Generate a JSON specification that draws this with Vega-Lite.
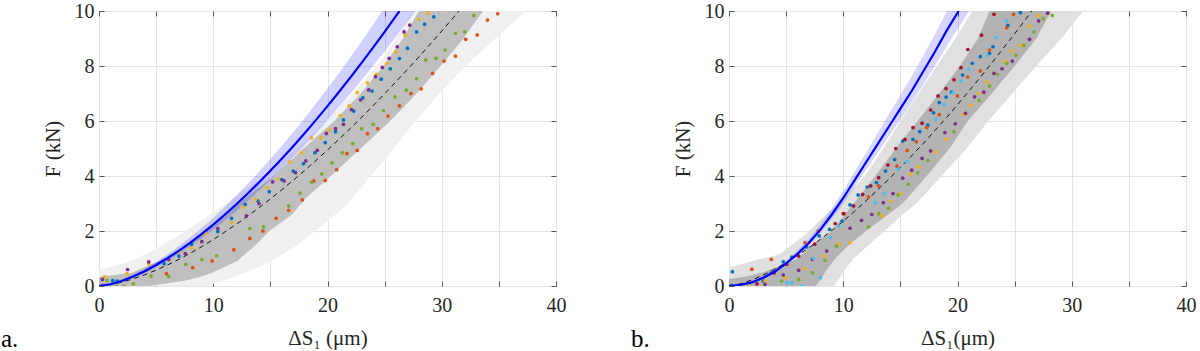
{
"$schema":"https://vega.github.io/schema/vega-lite/v6.json",
"background":"white",
"padding":{"left":0,"top":0,"right":0,"bottom":0},
"config":{"view":{"stroke":"#666666","strokeWidth":1},"font":"Liberation Serif"},
"spacing":173,
"bounds":"flush",
"datasets":{
"aOuter":[{"y":0,"lo":0,"hi":9.5},{"y":0.3,"lo":0,"hi":11.7},{"y":0.6,"lo":0,"hi":13.5},{"y":0.75,"lo":1.5,"hi":14.3},{"y":1,"lo":3.4,"hi":15.5},{"y":1.5,"lo":5.6,"hi":17.4},{"y":2,"lo":7.6,"hi":18.9},{"y":2.5,"lo":9.4,"hi":20.4},{"y":3,"lo":11.1,"hi":21.8},{"y":4,"lo":14.5,"hi":23.8},{"y":5,"lo":17.3,"hi":25.8},{"y":6,"lo":19.9,"hi":27.7},{"y":7,"lo":22.2,"hi":29.8},{"y":8,"lo":24.3,"hi":32.1},{"y":9,"lo":26.0,"hi":34.7},{"y":10,"lo":27.5,"hi":37.4}],
"aInner":[{"y":0,"lo":0,"hi":4.4},{"y":0.2,"lo":0,"hi":7.6},{"y":0.33,"lo":0,"hi":8.8},{"y":0.48,"lo":2.9,"hi":9.9},{"y":0.91,"lo":5.25,"hi":12.1},{"y":1.45,"lo":7.6,"hi":13.6},{"y":2,"lo":9.3,"hi":14.9},{"y":2.6,"lo":11.0,"hi":16.9},{"y":3.2,"lo":12.8,"hi":18.1},{"y":4,"lo":15.3,"hi":20.3},{"y":5,"lo":17.9,"hi":22.9},{"y":6,"lo":20.6,"hi":25.5},{"y":7,"lo":22.9,"hi":27.8},{"y":8,"lo":24.9,"hi":29.9},{"y":9,"lo":26.6,"hi":31.9},{"y":10,"lo":28.0,"hi":33.6}],
"aBand":[{"x":0,"lo":0,"hi":0.05},{"x":1,"lo":0.038,"hi":0.119},{"x":2,"lo":0.15,"hi":0.251},{"x":3,"lo":0.3,"hi":0.427},{"x":4,"lo":0.48,"hi":0.639},{"x":5,"lo":0.686,"hi":0.882},{"x":6,"lo":0.916,"hi":1.153},{"x":7,"lo":1.169,"hi":1.451},{"x":8,"lo":1.442,"hi":1.773},{"x":9,"lo":1.735,"hi":2.118},{"x":10,"lo":2.047,"hi":2.485},{"x":11,"lo":2.376,"hi":2.873},{"x":12,"lo":2.722,"hi":3.281},{"x":13,"lo":3.083,"hi":3.707},{"x":14,"lo":3.461,"hi":4.152},{"x":15,"lo":3.854,"hi":4.615},{"x":16,"lo":4.262,"hi":5.096},{"x":17,"lo":4.684,"hi":5.593},{"x":18,"lo":5.12,"hi":6.107},{"x":19,"lo":5.568,"hi":6.635},{"x":20,"lo":6.03,"hi":7.18},{"x":21,"lo":6.505,"hi":7.739},{"x":22,"lo":6.993,"hi":8.314},{"x":23,"lo":7.494,"hi":8.904},{"x":24,"lo":8.007,"hi":9.509},{"x":25,"lo":8.531,"hi":10.126},{"x":26,"lo":9.067,"hi":10.758},{"x":27,"lo":9.614,"hi":11.4},{"x":28,"lo":10.17,"hi":12.06}],
"aBlue":[{"x":0,"y":0},{"x":1,"y":0.063},{"x":2,"y":0.184},{"x":3,"y":0.346},{"x":4,"y":0.54},{"x":5,"y":0.763},{"x":6,"y":1.012},{"x":7,"y":1.285},{"x":8,"y":1.581},{"x":9,"y":1.897},{"x":10,"y":2.234},{"x":11,"y":2.59},{"x":12,"y":2.964},{"x":13,"y":3.355},{"x":14,"y":3.763},{"x":15,"y":4.188},{"x":16,"y":4.629},{"x":17,"y":5.085},{"x":18,"y":5.557},{"x":19,"y":6.041},{"x":20,"y":6.541},{"x":21,"y":7.054},{"x":22,"y":7.582},{"x":23,"y":8.123},{"x":24,"y":8.678},{"x":25,"y":9.244},{"x":26,"y":9.824},{"x":26.3,"y":10}],
"aMean":[{"x":0,"y":0},{"x":1,"y":0.048},{"x":2,"y":0.139},{"x":3,"y":0.261},{"x":4,"y":0.408},{"x":5,"y":0.577},{"x":6,"y":0.765},{"x":7,"y":0.972},{"x":8,"y":1.195},{"x":9,"y":1.434},{"x":10,"y":1.689},{"x":11,"y":1.958},{"x":12,"y":2.24},{"x":13,"y":2.536},{"x":14,"y":2.845},{"x":15,"y":3.166},{"x":16,"y":3.499},{"x":17,"y":3.844},{"x":18,"y":4.2},{"x":19,"y":4.568},{"x":20,"y":4.945},{"x":21,"y":5.334},{"x":22,"y":5.732},{"x":23,"y":6.142},{"x":24,"y":6.561},{"x":25,"y":6.989},{"x":26,"y":7.428},{"x":27,"y":7.874},{"x":28,"y":8.331},{"x":29,"y":8.797},{"x":30,"y":9.271},{"x":31,"y":9.755},{"x":31.5,"y":10}],
"aPts":[
{"s":"1","x":0.8,"y":0.0},{"s":"1","x":1.2,"y":0.2},{"s":"1","x":1.6,"y":0.18},{"s":"1","x":5.7,"y":0.81},{"s":"1","x":7.0,"y":1.09},{"s":"1","x":8.1,"y":1.52},{"s":"1","x":10.4,"y":1.98},{"s":"1","x":11.6,"y":2.46},{"s":"1","x":12.8,"y":2.97},{"s":"1","x":13.9,"y":3.1},{"s":"1","x":14.9,"y":3.43},{"s":"1","x":16.0,"y":3.87},{"s":"1","x":17.0,"y":4.18},{"s":"1","x":17.9,"y":4.45},{"s":"1","x":18.9,"y":4.85},{"s":"1","x":19.8,"y":5.21},{"s":"1","x":20.7,"y":5.61},{"s":"1","x":21.4,"y":6.04},{"s":"1","x":22.3,"y":6.36},{"s":"1","x":23.1,"y":6.84},{"s":"1","x":23.9,"y":7.09},{"s":"1","x":24.7,"y":7.52},{"s":"1","x":25.5,"y":7.9},{"s":"1","x":26.3,"y":8.27},{"s":"1","x":27.0,"y":8.65},{"s":"1","x":27.8,"y":9.24},{"s":"1","x":28.5,"y":9.52},{"s":"1","x":29.3,"y":9.79},
{"s":"2","x":0.3,"y":0.02},{"s":"2","x":5.9,"y":0.45},{"s":"2","x":8.2,"y":0.67},{"s":"2","x":9.9,"y":0.91},{"s":"2","x":11.8,"y":1.32},{"s":"2","x":13.2,"y":1.73},{"s":"2","x":14.35,"y":2.0},{"s":"2","x":15.5,"y":2.46},{"s":"2","x":16.6,"y":2.75},{"s":"2","x":17.8,"y":3.13},{"s":"2","x":18.8,"y":3.82},{"s":"2","x":19.8,"y":3.84},{"s":"2","x":20.8,"y":4.23},{"s":"2","x":21.7,"y":4.81},{"s":"2","x":22.6,"y":4.93},{"s":"2","x":23.5,"y":5.54},{"s":"2","x":24.4,"y":5.72},{"s":"2","x":25.3,"y":6.18},{"s":"2","x":26.3,"y":6.55},{"s":"2","x":27.3,"y":7.0},{"s":"2","x":28.2,"y":7.17},{"s":"2","x":29.2,"y":7.73},{"s":"2","x":30.2,"y":8.18},{"s":"2","x":31.2,"y":8.36},{"s":"2","x":32.1,"y":8.97},{"s":"2","x":33.1,"y":9.13},{"s":"2","x":34.0,"y":9.67},{"s":"2","x":34.9,"y":9.9},
{"s":"3","x":0.5,"y":0.33},{"s":"3","x":2.45,"y":0.45},{"s":"3","x":4.35,"y":0.81},{"s":"3","x":7.0,"y":1.25},{"s":"3","x":8.1,"y":1.39},{"s":"3","x":9.3,"y":1.9},{"s":"3","x":11.6,"y":2.3},{"s":"3","x":12.6,"y":2.87},{"s":"3","x":13.7,"y":3.15},{"s":"3","x":14.7,"y":3.58},{"s":"3","x":15.7,"y":3.9},{"s":"3","x":16.7,"y":4.51},{"s":"3","x":17.7,"y":4.85},{"s":"3","x":18.6,"y":5.39},{"s":"3","x":19.4,"y":5.39},{"s":"3","x":20.2,"y":5.67},{"s":"3","x":21.1,"y":6.2},{"s":"3","x":21.9,"y":6.55},{"s":"3","x":22.6,"y":7.03},{"s":"3","x":23.5,"y":7.39},{"s":"3","x":24.3,"y":7.7},{"s":"3","x":25.2,"y":8.1},{"s":"3","x":26.0,"y":8.51},{"s":"3","x":26.8,"y":9.12},{"s":"3","x":28.0,"y":9.7},{"s":"3","x":28.8,"y":9.92},
{"s":"4","x":0.3,"y":0.24},{"s":"4","x":2.5,"y":0.6},{"s":"4","x":4.35,"y":0.88},{"s":"4","x":6.1,"y":0.96},{"s":"4","x":7.55,"y":1.18},{"s":"4","x":9.0,"y":1.61},{"s":"4","x":10.4,"y":2.09},{"s":"4","x":12.9,"y":2.55},{"s":"4","x":14.0,"y":3.0},{"s":"4","x":15.2,"y":3.79},{"s":"4","x":16.2,"y":3.82},{"s":"4","x":17.2,"y":4.12},{"s":"4","x":18.1,"y":4.55},{"s":"4","x":19.1,"y":4.93},{"s":"4","x":19.9,"y":5.55},{"s":"4","x":20.7,"y":5.72},{"s":"4","x":21.4,"y":5.88},{"s":"4","x":22.1,"y":6.41},{"s":"4","x":22.9,"y":6.77},{"s":"4","x":23.6,"y":7.13},{"s":"4","x":24.2,"y":7.61},{"s":"4","x":24.8,"y":7.95},{"s":"4","x":25.4,"y":8.28},{"s":"4","x":26.1,"y":8.7},{"s":"4","x":26.7,"y":9.24},{"s":"4","x":27.2,"y":9.49},
{"s":"5","x":0.7,"y":0.2},{"s":"5","x":1.5,"y":0.0},{"s":"5","x":2.2,"y":0.0},{"s":"5","x":3.0,"y":0.08},{"s":"5","x":4.55,"y":0.36},{"s":"5","x":6.1,"y":0.35},{"s":"5","x":7.6,"y":0.79},{"s":"5","x":9.0,"y":0.96},{"s":"5","x":10.3,"y":1.1},{"s":"5","x":13.2,"y":2.09},{"s":"5","x":14.4,"y":2.15},{"s":"5","x":16.6,"y":2.91},{"s":"5","x":17.6,"y":3.38},{"s":"5","x":18.6,"y":3.78},{"s":"5","x":19.5,"y":4.08},{"s":"5","x":20.4,"y":4.48},{"s":"5","x":21.3,"y":4.85},{"s":"5","x":22.2,"y":5.18},{"s":"5","x":23.0,"y":5.72},{"s":"5","x":24.0,"y":5.88},{"s":"5","x":24.9,"y":6.38},{"s":"5","x":25.9,"y":6.88},{"s":"5","x":26.9,"y":7.12},{"s":"5","x":27.8,"y":7.54},{"s":"5","x":28.6,"y":8.22},{"s":"5","x":29.5,"y":8.28},{"s":"5","x":30.3,"y":8.58},{"s":"5","x":31.2,"y":9.19},{"s":"5","x":32.0,"y":9.24},{"s":"5","x":32.8,"y":9.84}],
"bOuter":[{"y":0,"lo":0,"hi":9.2},{"y":0.67,"lo":0,"hi":10.3},{"y":1,"lo":2.9,"hi":10.9},{"y":1.15,"lo":4.4,"hi":11.3},{"y":1.88,"lo":6.7,"hi":13.3},{"y":2.6,"lo":8.5,"hi":15.2},{"y":3,"lo":9.6,"hi":16.4},{"y":4,"lo":11.9,"hi":18.6},{"y":5,"lo":13.5,"hi":20.8},{"y":6,"lo":15.0,"hi":22.7},{"y":7,"lo":16.6,"hi":24.8},{"y":8,"lo":18.2,"hi":26.9},{"y":9,"lo":19.8,"hi":29.1},{"y":10,"lo":21.3,"hi":31.0}],
"bInner":[{"y":0,"lo":0,"hi":7.6},{"y":0.25,"lo":0,"hi":8.0},{"y":0.35,"lo":1.5,"hi":8.2},{"y":0.5,"lo":3.0,"hi":8.4},{"y":1,"lo":6.0,"hi":9.3},{"y":1.5,"lo":7.3,"hi":10.5},{"y":2,"lo":9.0,"hi":12.0},{"y":3,"lo":10.9,"hi":15.2},{"y":4,"lo":12.8,"hi":17.3},{"y":5,"lo":14.6,"hi":19.3},{"y":6,"lo":16.5,"hi":20.9},{"y":7,"lo":18.4,"hi":23.0},{"y":8,"lo":20.2,"hi":25.0},{"y":9,"lo":21.8,"hi":26.9},{"y":10,"lo":22.8,"hi":28.2}],
"bBand":[{"x":0,"lo":0,"hi":0.04},{"x":1,"lo":0.028,"hi":0.083},{"x":2,"lo":0.112,"hi":0.179},{"x":3,"lo":0.272,"hi":0.361},{"x":4,"lo":0.479,"hi":0.596},{"x":5,"lo":0.761,"hi":0.917},{"x":6,"lo":1.09,"hi":1.292},{"x":7,"lo":1.466,"hi":1.72},{"x":8,"lo":1.917,"hi":2.234},{"x":9,"lo":2.434,"hi":2.822},{"x":10,"lo":2.998,"hi":3.464},{"x":11,"lo":3.609,"hi":4.16},{"x":12,"lo":4.22,"hi":4.855},{"x":13,"lo":4.831,"hi":5.551},{"x":14,"lo":5.442,"hi":6.246},{"x":15,"lo":6.053,"hi":6.942},{"x":16,"lo":6.664,"hi":7.637},{"x":17,"lo":7.322,"hi":8.386},{"x":18,"lo":7.98,"hi":9.135},{"x":19,"lo":8.685,"hi":9.938},{"x":20.1,"lo":9.39,"hi":10.74},{"x":21,"lo":10.0,"hi":11.436},{"x":22,"lo":10.66,"hi":12.185}],
"bBlue":[{"x":0,"y":0},{"x":1,"y":0.04},{"x":2,"y":0.13},{"x":3,"y":0.3},{"x":4,"y":0.52},{"x":5,"y":0.82},{"x":6,"y":1.17},{"x":7,"y":1.57},{"x":8,"y":2.05},{"x":9,"y":2.6},{"x":10,"y":3.2},{"x":11,"y":3.85},{"x":12,"y":4.5},{"x":13,"y":5.15},{"x":14,"y":5.8},{"x":15,"y":6.45},{"x":16,"y":7.1},{"x":17,"y":7.8},{"x":18,"y":8.5},{"x":19,"y":9.25},{"x":20.1,"y":10}],
"bMean":[{"x":0,"y":0},{"x":1,"y":0.078},{"x":2,"y":0.218},{"x":3,"y":0.398},{"x":4,"y":0.609},{"x":5,"y":0.847},{"x":6,"y":1.11},{"x":7,"y":1.395},{"x":8,"y":1.7},{"x":9,"y":2.02},{"x":10,"y":2.36},{"x":11,"y":2.72},{"x":12,"y":3.1},{"x":13,"y":3.49},{"x":14,"y":3.89},{"x":15,"y":4.31},{"x":16,"y":4.74},{"x":17,"y":5.18},{"x":18,"y":5.64},{"x":19,"y":6.11},{"x":20,"y":6.59},{"x":21,"y":7.09},{"x":22,"y":7.59},{"x":23,"y":8.11},{"x":24,"y":8.64},{"x":25,"y":9.17},{"x":26,"y":9.72},{"x":26.5,"y":10}],
"bPts":[
{"s":"1","x":0.3,"y":0},{"s":"1","x":0.3,"y":0.52},{"s":"1","x":3.0,"y":0.18},{"s":"1","x":3.7,"y":0.48},{"s":"1","x":4.75,"y":0.88},{"s":"1","x":5.5,"y":1.05},{"s":"1","x":6.8,"y":1.42},{"s":"1","x":7.9,"y":1.82},{"s":"1","x":8.8,"y":2.06},{"s":"1","x":9.9,"y":2.36},{"s":"1","x":10.6,"y":2.95},{"s":"1","x":11.3,"y":3.31},{"s":"1","x":12.1,"y":3.6},{"s":"1","x":12.9,"y":3.76},{"s":"1","x":13.7,"y":4.18},{"s":"1","x":14.5,"y":4.6},{"s":"1","x":15.2,"y":5.27},{"s":"1","x":16.1,"y":5.33},{"s":"1","x":16.7,"y":5.61},{"s":"1","x":17.4,"y":5.85},{"s":"1","x":17.9,"y":6.3},{"s":"1","x":18.4,"y":6.67},{"s":"1","x":19.0,"y":6.87},{"s":"1","x":19.5,"y":7.05},{"s":"1","x":20.45,"y":7.67},{"s":"1","x":21.3,"y":8.1},{"s":"1","x":22.0,"y":8.34},{"s":"1","x":22.8,"y":8.46},{"s":"1","x":23.1,"y":8.7},{"s":"1","x":24.4,"y":9.48},{"s":"1","x":25.5,"y":9.94},
{"s":"2","x":2.0,"y":0.61},{"s":"2","x":3.7,"y":0.97},{"s":"2","x":6.65,"y":1.58},{"s":"2","x":7.8,"y":2.0},{"s":"2","x":10.1,"y":2.63},{"s":"2","x":12.2,"y":3.24},{"s":"2","x":13.1,"y":3.64},{"s":"2","x":14.7,"y":4.36},{"s":"2","x":15.6,"y":4.93},{"s":"2","x":16.4,"y":5.25},{"s":"2","x":17.3,"y":5.76},{"s":"2","x":18.4,"y":6.23},{"s":"2","x":20.0,"y":6.91},{"s":"2","x":20.9,"y":7.6},{"s":"2","x":22.0,"y":7.82},{"s":"2","x":22.8,"y":8.58},{"s":"2","x":24.3,"y":9.39},{"s":"2","x":24.9,"y":9.88},
{"s":"3","x":1.5,"y":0},{"s":"3","x":3.15,"y":0.18},{"s":"3","x":4.9,"y":0.3},{"s":"3","x":6.6,"y":0.63},{"s":"3","x":8.3,"y":1.09},{"s":"3","x":9.6,"y":1.54},{"s":"3","x":10.6,"y":1.58},{"s":"3","x":13.4,"y":2.55},{"s":"3","x":14.2,"y":3.09},{"s":"3","x":15.0,"y":3.36},{"s":"3","x":15.9,"y":4.06},{"s":"3","x":16.6,"y":4.33},{"s":"3","x":18.1,"y":4.88},{"s":"3","x":19.0,"y":5.33},{"s":"3","x":20.5,"y":6.24},{"s":"3","x":21.2,"y":6.57},{"s":"3","x":21.9,"y":7.0},{"s":"3","x":22.6,"y":7.42},{"s":"3","x":24.1,"y":8.18},{"s":"3","x":24.8,"y":8.55},{"s":"3","x":25.5,"y":8.75},{"s":"3","x":26.3,"y":9.45},{"s":"3","x":27.1,"y":9.84},
{"s":"4","x":3.15,"y":0.06},{"s":"4","x":4.75,"y":0.4},{"s":"4","x":6.1,"y":0.57},{"s":"4","x":7.3,"y":0.97},{"s":"4","x":8.55,"y":1.27},{"s":"4","x":10.6,"y":2.1},{"s":"4","x":11.6,"y":2.39},{"s":"4","x":12.5,"y":2.6},{"s":"4","x":13.5,"y":3.03},{"s":"4","x":14.35,"y":3.36},{"s":"4","x":15.2,"y":3.92},{"s":"4","x":16.0,"y":4.21},{"s":"4","x":16.9,"y":4.64},{"s":"4","x":17.65,"y":4.91},{"s":"4","x":18.9,"y":5.58},{"s":"4","x":19.8,"y":5.9},{"s":"4","x":20.7,"y":6.28},{"s":"4","x":21.5,"y":6.88},{"s":"4","x":22.3,"y":7.05},{"s":"4","x":23.2,"y":7.73},{"s":"4","x":23.9,"y":7.9},{"s":"4","x":24.8,"y":8.18},{"s":"4","x":26.3,"y":8.97},{"s":"4","x":27.1,"y":9.64},{"s":"4","x":27.9,"y":9.92},
{"s":"5","x":4.6,"y":0.18},{"s":"5","x":6.1,"y":0.24},{"s":"5","x":7.3,"y":0.48},{"s":"5","x":8.4,"y":0.93},{"s":"5","x":9.4,"y":1.45},{"s":"5","x":12.2,"y":2.15},{"s":"5","x":13.1,"y":2.63},{"s":"5","x":13.95,"y":2.83},{"s":"5","x":14.8,"y":3.31},{"s":"5","x":15.7,"y":3.7},{"s":"5","x":16.5,"y":4.12},{"s":"5","x":17.4,"y":4.57},{"s":"5","x":19.7,"y":5.61},{"s":"5","x":21.9,"y":6.75},{"s":"5","x":22.8,"y":7.27},{"s":"5","x":23.5,"y":7.7},{"s":"5","x":24.3,"y":8.1},{"s":"5","x":25.1,"y":8.39},{"s":"5","x":25.8,"y":8.75},{"s":"5","x":26.7,"y":9.24},{"s":"5","x":27.5,"y":9.72},{"s":"5","x":28.3,"y":9.84},
{"s":"6","x":5.1,"y":0.12},{"s":"6","x":5.5,"y":0.12},{"s":"6","x":6.4,"y":0},{"s":"6","x":8.0,"y":0.3},{"s":"6","x":7.4,"y":1.0},{"s":"6","x":8.9,"y":1.76},{"s":"6","x":9.6,"y":2.18},{"s":"6","x":12.8,"y":3.03},{"s":"6","x":13.6,"y":3.36},{"s":"6","x":14.8,"y":4.24},{"s":"6","x":15.6,"y":4.52},{"s":"6","x":18.1,"y":6.06},{"s":"6","x":18.8,"y":6.6},{"s":"6","x":19.6,"y":7.03},{"s":"6","x":20.3,"y":7.45},{"s":"6","x":20.95,"y":7.88},{"s":"6","x":22.6,"y":8.39},{"s":"6","x":23.4,"y":9.03},{"s":"6","x":24.3,"y":9.64},
{"s":"7","x":0.17,"y":0},{"s":"7","x":2.45,"y":0.08},{"s":"7","x":3.96,"y":0.48},{"s":"7","x":5.05,"y":0.79},{"s":"7","x":6.1,"y":1.09},{"s":"7","x":7.5,"y":1.52},{"s":"7","x":9.3,"y":2.27},{"s":"7","x":10.0,"y":2.63},{"s":"7","x":10.9,"y":2.91},{"s":"7","x":11.7,"y":3.33},{"s":"7","x":12.4,"y":3.64},{"s":"7","x":13.1,"y":3.94},{"s":"7","x":13.9,"y":4.4},{"s":"7","x":14.6,"y":5.0},{"s":"7","x":15.4,"y":5.33},{"s":"7","x":16.1,"y":5.76},{"s":"7","x":16.9,"y":5.92},{"s":"7","x":17.65,"y":6.4},{"s":"7","x":18.3,"y":6.91},{"s":"7","x":19.0,"y":7.18},{"s":"7","x":19.7,"y":7.5},{"s":"7","x":20.3,"y":7.94},{"s":"7","x":20.9,"y":8.6},{"s":"7","x":22.1,"y":9.12},{"s":"7","x":23.2,"y":9.88}]
},
"hconcat":[
{
"width":457,"height":275,
"title":{"text":"a.","orient":"bottom","anchor":"start","frame":"group","fontSize":25,"font":"Liberation Serif","fontWeight":"normal","color":"#000000","offset":-21,"dx":-98},
"resolve":{"axis":{"x":"independent","y":"independent"}},
"layer":[
{"data":{"name":"aOuter"},"mark":{"type":"area","orient":"horizontal","color":"#f0f0f0","clip":true},
"encoding":{
"y":{"field":"y","type":"quantitative","scale":{"domain":[0,10],"nice":false,"zero":false},"axis":{"orient":"left","values":[0,2,4,6,8,10],"grid":true,"gridColor":"#e4e4e4","domain":false,"tickSize":-5,"tickColor":"#555555","labelPadding":10,"labelFont":"Liberation Serif","labelFontSize":20,"labelColor":"#262626","title":"F (kN)","titleFont":"Liberation Serif","titleFontSize":21,"titleFontWeight":"normal","titleColor":"#262626","titlePadding":11}},
"x":{"field":"lo","type":"quantitative","scale":{"domain":[0,40],"nice":false,"zero":false},"axis":{"orient":"bottom","values":[0,5,10,15,20,25,30,35,40],"labelExpr":"datum.value % 10 === 0 ? datum.label : ''","grid":true,"gridColor":"#e4e4e4","domain":false,"tickSize":-5,"tickColor":"#555555","labelPadding":14,"labelFont":"Liberation Serif","labelFontSize":20,"labelColor":"#262626","labelFlush":false,"title":"ΔS₁ (μm)","titleFont":"Liberation Serif","titleFontSize":21,"titleFontWeight":"normal","titleColor":"#262626","titlePadding":12}},
"x2":{"field":"hi"}}},
{"data":{"name":"aInner"},"mark":{"type":"area","orient":"horizontal","color":"#bfbfbf","clip":true},
"encoding":{
"y":{"field":"y","type":"quantitative","axis":{"orient":"right","values":[0,2,4,6,8,10],"grid":false,"labels":false,"domain":false,"tickSize":-5,"tickColor":"#555555","title":null}},
"x":{"field":"lo","type":"quantitative","axis":{"orient":"top","values":[0,5,10,15,20,25,30,35,40],"grid":false,"labels":false,"domain":false,"tickSize":-5,"tickColor":"#555555","title":null}},
"x2":{"field":"hi"}}},
{"data":{"name":"aBand"},"mark":{"type":"area","color":"#0000ff","opacity":0.18,"clip":true},
"encoding":{"x":{"field":"x","type":"quantitative","axis":null},"y":{"field":"lo","type":"quantitative","axis":null},"y2":{"field":"hi"}}},
{"data":{"name":"aMean"},"mark":{"type":"line","color":"#000000","strokeWidth":0.9,"strokeDash":[5,4],"clip":true},
"encoding":{"x":{"field":"x","type":"quantitative","axis":null},"y":{"field":"y","type":"quantitative","axis":null}}},
{"data":{"name":"aPts"},"mark":{"type":"circle","size":14,"opacity":1,"clip":true},
"encoding":{"x":{"field":"x","type":"quantitative","axis":null},"y":{"field":"y","type":"quantitative","axis":null},
"color":{"field":"s","type":"nominal","legend":null,"scale":{"domain":["1","2","3","4","5","6","7"],"range":["#0072BD","#D95319","#EDB120","#7E2F8E","#77AC30","#4DBEEE","#A2142F"]}}}},
{"data":{"name":"aBlue"},"mark":{"type":"line","color":"#0000ff","strokeWidth":2.2,"clip":true},
"encoding":{"x":{"field":"x","type":"quantitative","axis":null},"y":{"field":"y","type":"quantitative","axis":null}}}
]
},
{
"width":457,"height":275,
"title":{"text":"b.","orient":"bottom","anchor":"start","frame":"group","fontSize":25,"font":"Liberation Serif","fontWeight":"normal","color":"#000000","offset":-21,"dx":-98},
"resolve":{"axis":{"x":"independent","y":"independent"}},
"layer":[
{"data":{"name":"bOuter"},"mark":{"type":"area","orient":"horizontal","color":"#e0e0e0","clip":true},
"encoding":{
"y":{"field":"y","type":"quantitative","scale":{"domain":[0,10],"nice":false,"zero":false},"axis":{"orient":"left","values":[0,2,4,6,8,10],"grid":true,"gridColor":"#e4e4e4","domain":false,"tickSize":-5,"tickColor":"#555555","labelPadding":10,"labelFont":"Liberation Serif","labelFontSize":20,"labelColor":"#262626","title":"F (kN)","titleFont":"Liberation Serif","titleFontSize":21,"titleFontWeight":"normal","titleColor":"#262626","titlePadding":11}},
"x":{"field":"lo","type":"quantitative","scale":{"domain":[0,40],"nice":false,"zero":false},"axis":{"orient":"bottom","values":[0,5,10,15,20,25,30,35,40],"labelExpr":"datum.value % 10 === 0 ? datum.label : ''","grid":true,"gridColor":"#e4e4e4","domain":false,"tickSize":-5,"tickColor":"#555555","labelPadding":14,"labelFont":"Liberation Serif","labelFontSize":20,"labelColor":"#262626","labelFlush":false,"title":"ΔS₁(μm)","titleFont":"Liberation Serif","titleFontSize":21,"titleFontWeight":"normal","titleColor":"#262626","titlePadding":12}},
"x2":{"field":"hi"}}},
{"data":{"name":"bInner"},"mark":{"type":"area","orient":"horizontal","color":"#b3b3b3","clip":true},
"encoding":{
"y":{"field":"y","type":"quantitative","axis":{"orient":"right","values":[0,2,4,6,8,10],"grid":false,"labels":false,"domain":false,"tickSize":-5,"tickColor":"#555555","title":null}},
"x":{"field":"lo","type":"quantitative","axis":{"orient":"top","values":[0,5,10,15,20,25,30,35,40],"grid":false,"labels":false,"domain":false,"tickSize":-5,"tickColor":"#555555","title":null}},
"x2":{"field":"hi"}}},
{"data":{"name":"bBand"},"mark":{"type":"area","color":"#0000ff","opacity":0.16,"clip":true},
"encoding":{"x":{"field":"x","type":"quantitative","axis":null},"y":{"field":"lo","type":"quantitative","axis":null},"y2":{"field":"hi"}}},
{"data":{"name":"bMean"},"mark":{"type":"line","color":"#000000","strokeWidth":0.9,"strokeDash":[5,4],"clip":true},
"encoding":{"x":{"field":"x","type":"quantitative","axis":null},"y":{"field":"y","type":"quantitative","axis":null}}},
{"data":{"name":"bPts"},"mark":{"type":"circle","size":14,"opacity":1,"clip":true},
"encoding":{"x":{"field":"x","type":"quantitative","axis":null},"y":{"field":"y","type":"quantitative","axis":null},
"color":{"field":"s","type":"nominal","legend":null,"scale":{"domain":["1","2","3","4","5","6","7"],"range":["#0072BD","#D95319","#EDB120","#7E2F8E","#77AC30","#4DBEEE","#A2142F"]}}}},
{"data":{"name":"bBlue"},"mark":{"type":"line","color":"#0000ff","strokeWidth":2.2,"clip":true},
"encoding":{"x":{"field":"x","type":"quantitative","axis":null},"y":{"field":"y","type":"quantitative","axis":null}}}
]
}
]
}
